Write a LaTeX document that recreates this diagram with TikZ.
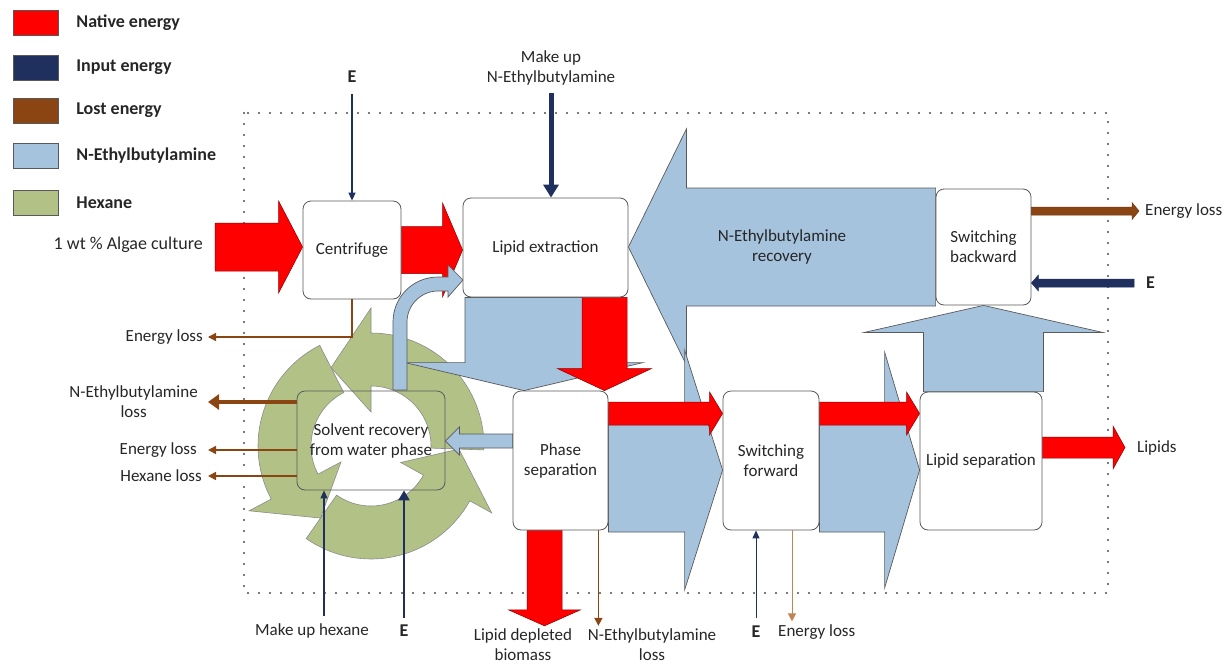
\documentclass[tikz,border=0pt]{standalone}
\usepackage{fontspec}
\setmainfont{Carlito}
\usepackage{tikz}
\usetikzlibrary{arrows.meta,positioning,calc}

\definecolor{nativered}{HTML}{FF0000}
\definecolor{inputnavy}{HTML}{1F2F5E}
\definecolor{lostbrown}{HTML}{8B4513}
\definecolor{lighttan}{HTML}{C08552}
\definecolor{amineblue}{HTML}{A6C3DE}
\definecolor{hexgreen}{HTML}{B2C287}
\definecolor{edgegray}{HTML}{595959}

\pgfdeclarelayer{bg}
\pgfsetlayers{bg,main}

% block arrow: style, from, tip, shaft half width, head half width, head length
\newcommand{\blockarrow}[6]{%
  \path (#2) coordinate (ba-s) (#3) coordinate (ba-t);
  \path ($(ba-t)!#6!(ba-s)$) coordinate (ba-h);
  \filldraw[#1] ($(ba-s)!#4!90:(ba-t)$) -- ($(ba-h)!#4!90:(ba-t)$)
    -- ($(ba-h)!#5!90:(ba-t)$) -- (ba-t) -- ($(ba-h)!#5!-90:(ba-t)$)
    -- ($(ba-h)!#4!-90:(ba-t)$) -- ($(ba-s)!#4!-90:(ba-t)$) -- cycle;
}

\begin{document}
\begin{tikzpicture}[
  x=1pt, y=-1pt,
  font=\fontsize{17}{20}\selectfont,
  every node/.style = {text=black!85},
  unit/.style = {rectangle, draw=edgegray, rounded corners=8pt, fill=white,
                 align=center, inner sep=2pt, line width=0.8pt},
  swatch/.style = {rectangle, draw=edgegray, minimum width=45pt,
                   minimum height=25pt, inner sep=0pt},
  key/.style = {inner sep=0pt, font=\fontsize{18}{20}\selectfont\bfseries},
  tag/.style = {align=center, inner sep=3pt},
  bold/.style = {inner sep=3pt, font=\fontsize{18}{20}\selectfont\bfseries},
  native/.style = {fill=nativered, draw=red!55!black, line width=0.5pt},
  amine/.style = {fill=amineblue, draw=edgegray, line width=0.7pt},
  hexane/.style = {fill=hexgreen, draw=edgegray!70, line width=0.6pt},
  inflow/.style = {fill=inputnavy, draw=inputnavy, line width=0.5pt},
  outflow/.style = {fill=lostbrown, draw=lostbrown!80!black, line width=0.5pt},
  feed/.style = {->, >={Triangle[length=8pt,width=7pt]}, draw=inputnavy, line width=1.3pt},
  bigfeed/.style = {->, >={Triangle[length=13pt,width=15pt]}, draw=inputnavy, line width=5pt},
  loss/.style = {->, >={Triangle[length=8pt,width=8pt]}, draw=lostbrown, line width=1.6pt},
  bigloss/.style = {->, >={Triangle[length=11pt,width=15pt]}, draw=lostbrown, line width=4pt},
  boundary/.style = {draw=black!70, line width=2.2pt, line cap=round, dash pattern=on 0pt off 11pt}
]
\useasboundingbox (0,0) rectangle (1231,664);

% Legend
\node[swatch, fill=nativered] (swNative) at (35.5,22.5) {};
\node[swatch, fill=inputnavy] (swInput) at (35.5,67.5) {};
\node[swatch, fill=lostbrown] (swLost) at (35.5,110.5) {};
\node[swatch, fill=amineblue] (swAmine) at (35.5,155.5) {};
\node[swatch, fill=hexgreen] (swHexane) at (35.5,202.5) {};
\node[key, right=18pt of swNative] (kNative) {Native energy};
\node[key, right=18pt of swInput] (kInput) {Input energy};
\node[key, right=18pt of swLost] (kLost) {Lost energy};
\node[key, right=18pt of swAmine] (kAmine) {N-Ethylbutylamine};
\node[key, right=18pt of swHexane] (kHexane) {Hexane};

% Process units
\node[unit, minimum width=98pt, minimum height=98pt] (cent) at (352,250) {Centrifuge};
\node[unit, minimum width=165pt, minimum height=99pt] (lipx) at (545.5,247.5) {Lipid extraction};
\node[unit, minimum width=95pt, minimum height=116pt] (swb) at (983.5,247) {Switching\\backward};
\node[unit, fill=none, minimum width=148pt, minimum height=99pt] (solv) at (371,440.5) {Solvent recovery\\from water phase};
\node[unit, minimum width=95pt, minimum height=139pt] (phs) at (560.5,460.5) {Phase\\separation};
\node[unit, minimum width=96pt, minimum height=139pt] (swf) at (771,460.5) {Switching\\forward};
\node[unit, minimum width=122pt, minimum height=138pt] (lsep) at (981,461) {Lipid separation};

% Stream labels
\node[tag, anchor=east, font=\fontsize{18}{20}\selectfont] (algae) at (206,245) {1 wt \% Algae culture};
\node[bold] (eTop) at (352,77) {E};
\node[tag] (mkAmine) at (551,68) {Make up\\N-Ethylbutylamine};
\node[tag] (recov) at (782,247) {N-Ethylbutylamine\\recovery};
\node[tag, anchor=west, inner xsep=6pt] (lossSwb) at (1139,211) {Energy loss};
\node[bold, anchor=west, inner xsep=12pt] (eSwb) at (1134,283) {E};
\node[tag, anchor=west, inner xsep=12pt] (lipids) at (1125,448) {Lipids};
\node[tag, anchor=east, inner xsep=5pt] (lossCent) at (208,337) {Energy loss};
\node[tag, anchor=east, inner xsep=10pt] (lossAmine) at (208,402) {N-Ethylbutylamine\\loss};
\node[tag, anchor=east, inner xsep=11pt] (lossSolv) at (208,450) {Energy loss};
\node[tag, anchor=east, inner xsep=6pt] (lossHex) at (208,476) {Hexane loss};
\node[tag] (mkHex) at (312,631) {Make up hexane};
\node[bold] (eHex) at (404,631) {E};
\node[tag] (depleted) at (523,645) {Lipid depleted\\biomass};
\node[tag] (lossPhs) at (652,645) {N-Ethylbutylamine\\loss};
\node[bold] (eFwd) at (756,632) {E};
\node[tag, anchor=west] (lossFwd) at (775,632) {Energy loss};

\begin{pgfonlayer}{bg}
% System boundary
\draw[boundary] (244,113) rectangle (1108,593);

% Hexane loop round the solvent recovery
\begin{scope}[shift={(371,446)}]
  \foreach \ta/\ba/\tp in {2/-90/-117, -117/-208/-235, -235/-331/-358}
    \filldraw[hexane] plot[domain=\ta:\ba, samples=30] (\x:113) -- (\ba:138)
      -- (\tp:88) -- (\ba:34) -- (\ba:60) -- plot[domain=\ba:\ta, samples=30] (\x:60) -- cycle;
\end{scope}

% N-Ethylbutylamine streams
\blockarrow{amine}{swb.west}{lipx.east |- swb.west}{59pt}{118pt}{58pt}
\blockarrow{amine}{swb.south |- lsep.north}{swb.south}{60pt}{119pt}{27pt}
\coordinate (exDown) at ($(lipx.south)+(-21.5,0)$);
\blockarrow{amine}{exDown}{exDown |- phs.north}{59pt}{119pt}{28pt}
\coordinate (fwdA) at ($(phs.east)+(0,9.5)$);
\blockarrow{amine}{fwdA}{swf.west |- fwdA}{62pt}{120pt}{38pt}
\coordinate (fwdB) at ($(swf.east)+(0,9.5)$);
\blockarrow{amine}{fwdB}{lsep.west |- fwdB}{62pt}{118pt}{35pt}

% Native energy streams
\coordinate (feedIn) at (215,247);
\blockarrow{native}{feedIn}{cent.west |- feedIn}{24pt}{46pt}{24pt}
\blockarrow{native}{cent.east}{lipx.west |- cent.east}{23.5pt}{47pt}{20pt}
\coordinate (exRed) at ($(lipx.south)+(59,0)$);
\blockarrow{native}{exRed}{exRed |- phs.north}{22.5pt}{47pt}{22pt}
\coordinate (redA) at ($(phs.east)+(0,-47)$);
\blockarrow{native}{redA}{swf.west |- redA}{11.5pt}{21.5pt}{13pt}
\coordinate (redB) at ($(swf.east)+(0,-47)$);
\blockarrow{native}{redB}{lsep.west |- redB}{11.5pt}{21.5pt}{13pt}
\coordinate (redC) at ($(lsep.east)+(0,-13.5)$);
\blockarrow{native}{redC}{lipids.west |- redC}{10.5pt}{21.5pt}{12pt}
\coordinate (redD) at ($(phs.south)+(-16,0)$);
\blockarrow{native}{redD}{redD |- depleted.north}{17.5pt}{36pt}{16pt}

% Solvent returned to extraction
\coordinate (backIn) at ($(phs.west)+(0,-19.5)$);
\blockarrow{amine}{backIn}{solv.east |- backIn}{7pt}{14pt}{14pt}
\filldraw[amine] (393,390) -- (393,322) .. controls (393,297) and (413,277) .. (438,277)
  -- (448,277) -- (448,265) -- (463,280) -- (448,297) -- (448,291) -- (438,291)
  .. controls (421,291) and (407,305) .. (407,322) -- (407,390) -- cycle;
\end{pgfonlayer}

% Energy in and out of switching backward
\blockarrow{outflow}{lossSwb.west -| swb.east}{lossSwb.west}{4pt}{8.5pt}{7pt}
\blockarrow{inflow}{eSwb.west}{eSwb.west -| swb.east}{4pt}{8pt}{7pt}

% Inputs from above
\draw[feed, shorten <=8pt] (eTop) -- (cent);
\draw[bigfeed, shorten <=5pt] (mkAmine.south) -- (mkAmine.south |- lipx.north);

% Losses to the left
\draw[loss, line width=1.3pt] (cent.south) |- (lossCent.east);
\draw[bigloss] (solv.west |- lossAmine.east) -- (lossAmine.east);
\draw[loss] (solv.west |- lossSolv.east) -- (lossSolv.east);
\draw[loss] (solv.west |- lossHex.east) -- (lossHex.east);

% Inputs and losses below
\coordinate (hexIn) at ($(mkHex.north)+(12,-5)$);
\draw[feed] (hexIn) -- (hexIn |- solv.south);
\draw[feed, line width=2.8pt, >={Triangle[length=10pt,width=11pt]}, shorten <=4pt] (eHex) -- (eHex |- solv.south);
\coordinate (amineOut) at ($(phs.south east)+(-10,0)$);
\draw[loss] (amineOut) -- (amineOut |- lossPhs.north);
\draw[feed, line width=1pt, shorten <=5pt] (eFwd) -- (eFwd |- swf.south);
\coordinate (fwdOut) at ($(swf.south)+(21,0)$);
\draw[loss, draw=lighttan, line width=1pt] (fwdOut) -- (fwdOut |- lossFwd.north);

\end{tikzpicture}
\end{document}
